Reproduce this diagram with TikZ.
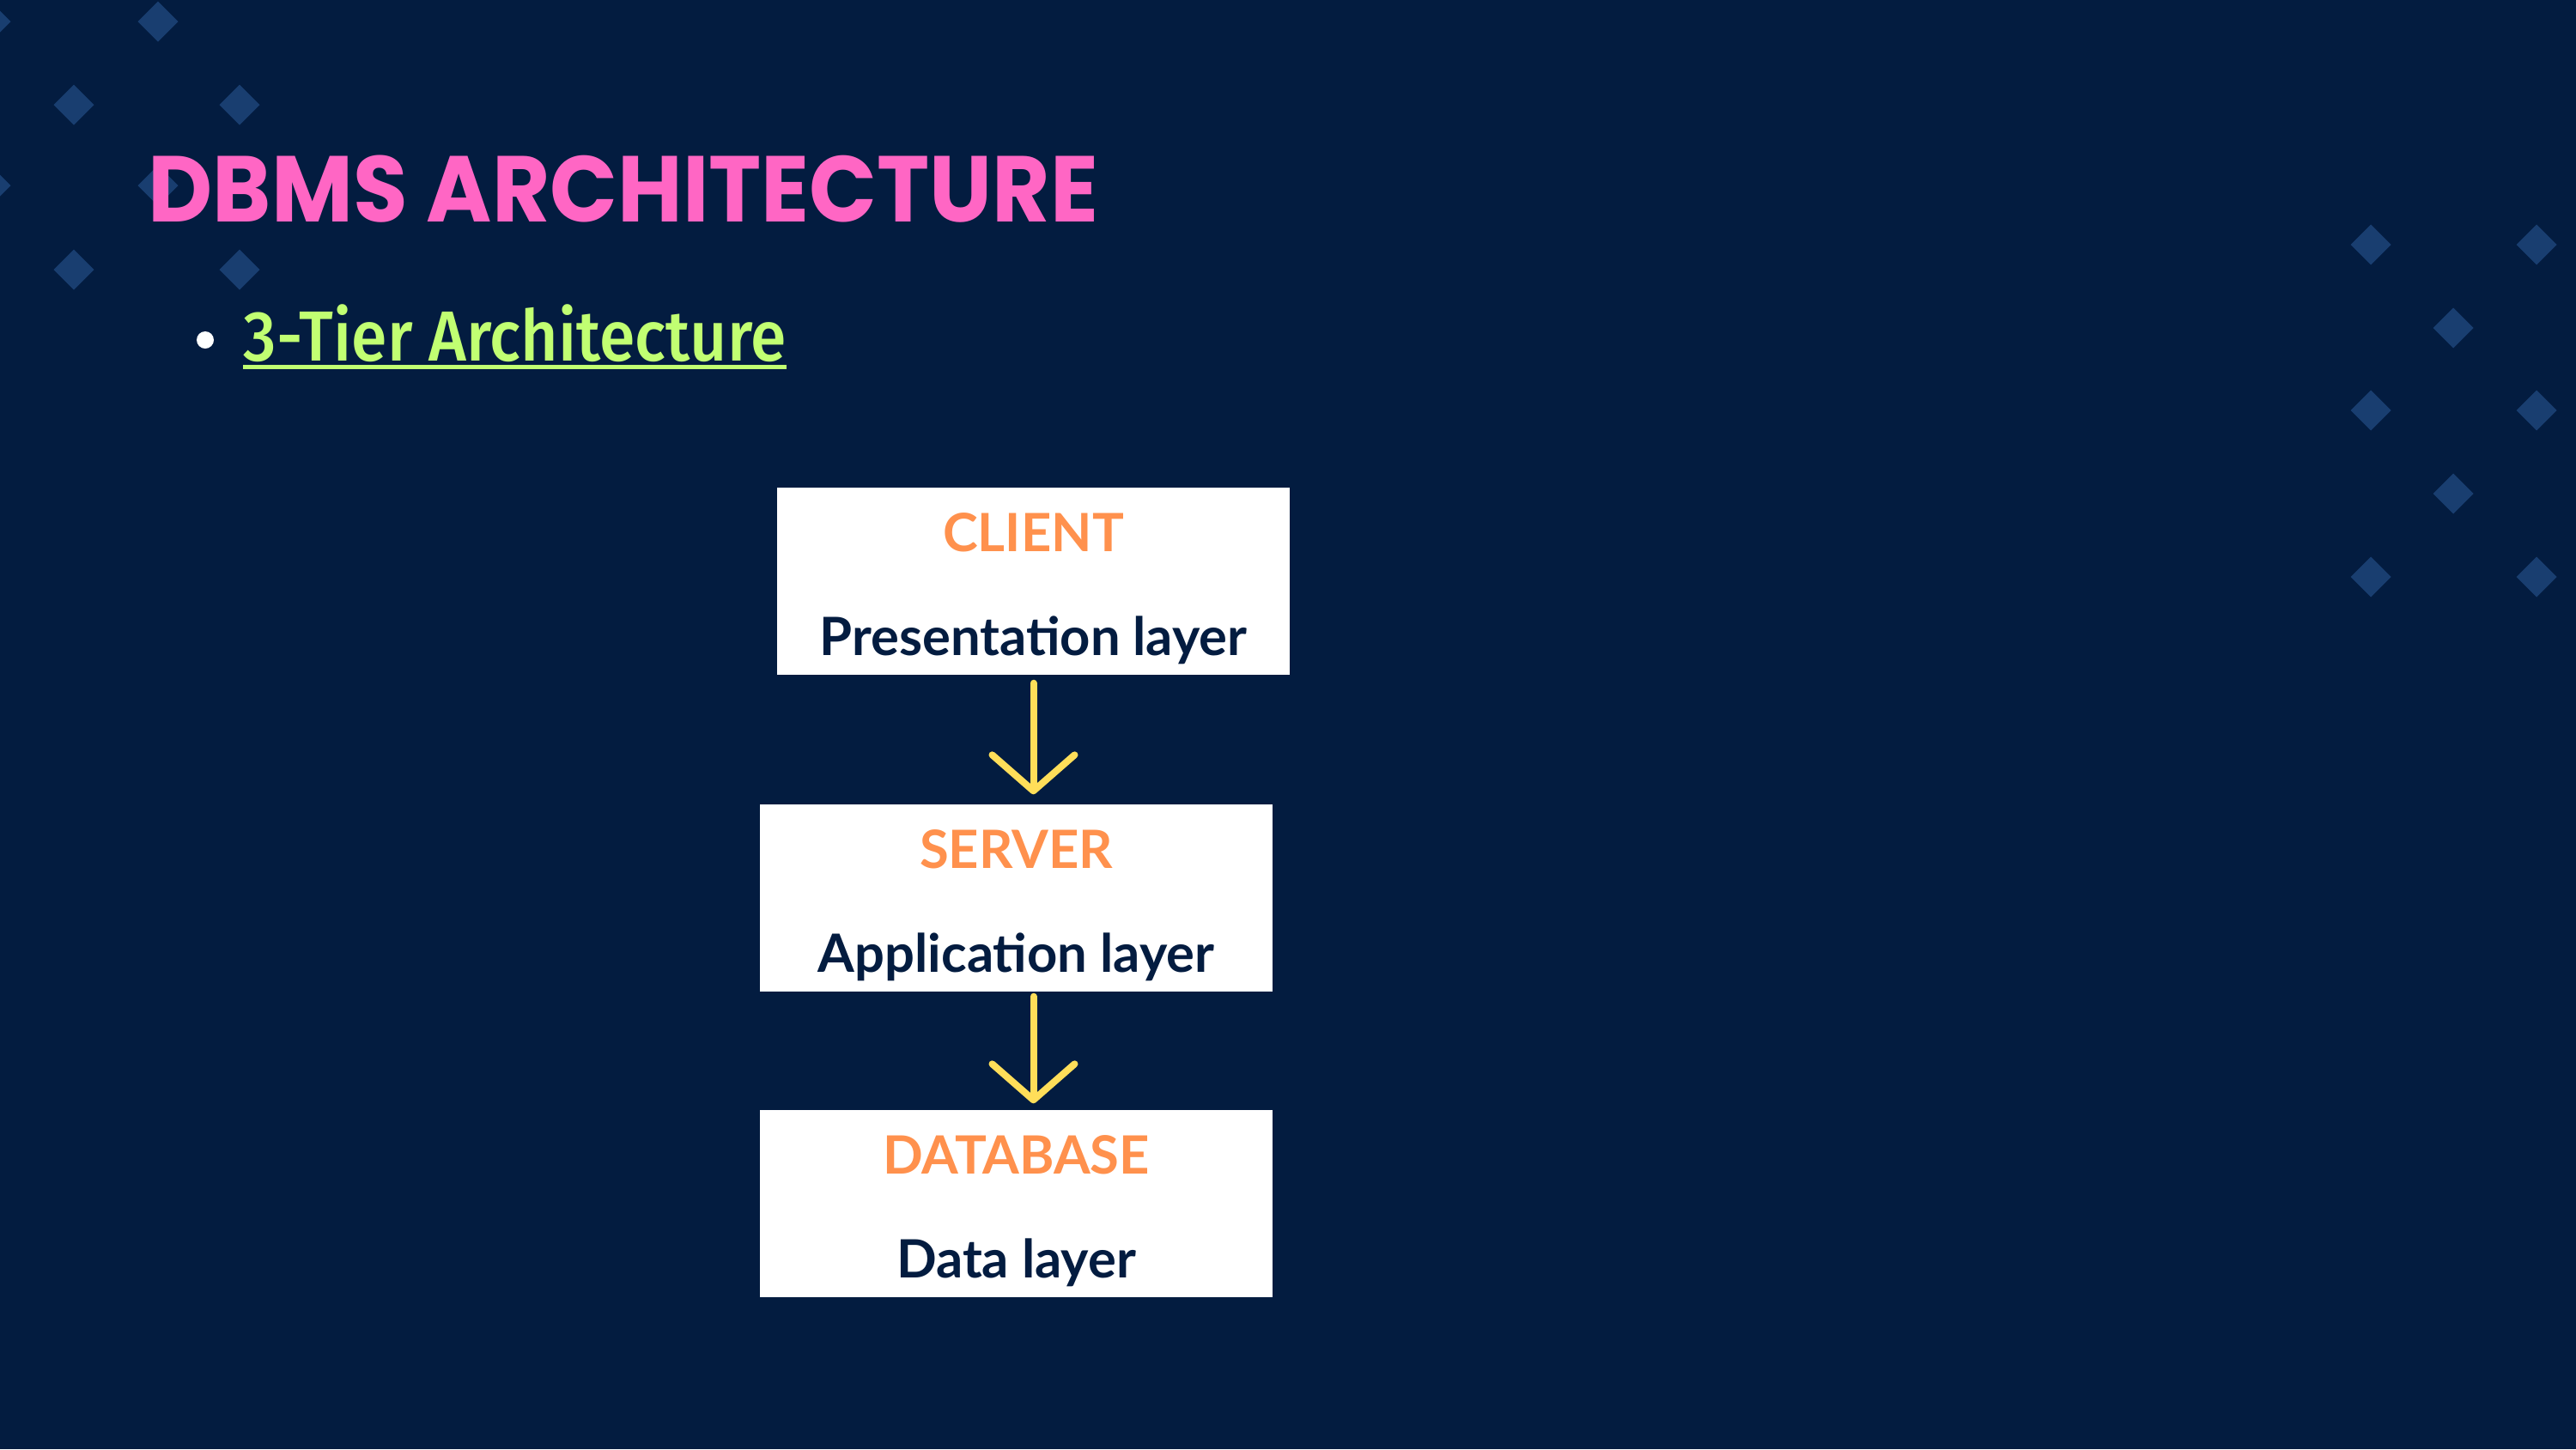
\documentclass[tikz,border=0pt]{standalone}
\usepackage{fontspec}
\setmainfont{Lato}
\newfontfamily\titlefont{Poppins}
\newfontfamily\tierfont{Fira Sans}[UprightFont=* Medium]
\usetikzlibrary{arrows.meta, positioning}
\definecolor{bgnavy}{RGB}{3,28,64}
\definecolor{gemblue}{RGB}{25,62,112}
\definecolor{titlepink}{RGB}{255,102,196}
\definecolor{tierlime}{RGB}{193,255,114}
\definecolor{tierorange}{RGB}{255,145,77}
\definecolor{arrowyellow}{RGB}{255,222,89}
\newcommand{\tiertop}{\rule{0pt}{0.62cm}}

\begin{document}
\begin{tikzpicture}[
  tierbox/.style={fill=white, minimum width=5.97cm, minimum height=2.18cm, align=center, inner sep=0pt, font=\bfseries\fontsize{17.5}{34.5}\selectfont},
  flow/.style={arrowyellow, line width=0.08cm, line cap=round, -{Straight Barb[length=4.2mm, width=9.6mm, line cap=round, line join=round]}}
]
  \useasboundingbox (0,0) rectangle (30,-16.88);
  \fill[bgnavy] (0,0) rectangle (30,-16.88);
  \clip (0,0) rectangle (30,-16.88);
  % background diamonds
  \foreach \x/\y in {-0.11/0.25, 1.84/0.25, 0.86/1.22, 2.79/1.22, -0.11/2.16, 1.84/2.16, 0.86/3.14, 2.79/3.14,
                     27.61/2.85, 29.54/2.85, 28.57/3.82, 27.61/4.78, 29.54/4.78, 28.57/5.75, 27.61/6.72, 29.54/6.72}
    \fill[gemblue] (\x,-\y) ++(0,0.235) -- ++(0.235,-0.235) -- ++(-0.235,-0.235) -- ++(-0.235,0.235) -- cycle;

  \node[anchor=base west, inner sep=0pt, text=titlepink, font=\titlefont\bfseries\fontsize{31}{31}\selectfont] (title) at (1.72,-2.58) {\scalebox{0.95}[1]{DBMS ARCHITECTURE}};

  % bullet
  \fill[white] (2.39,-3.96) circle (0.1);
  \node[anchor=base west, inner sep=0pt, text=tierlime, font=\tierfont\fontsize{23.5}{23.5}\selectfont] (tier) at (2.83,-4.2) {\scalebox{0.91}[1]{3-Tier Architecture}};
  \draw[tierlime, line width=0.05cm] ([yshift=-0.07cm]tier.base west) -- ([yshift=-0.07cm]tier.base east);

  % tiers
  \node[tierbox] (client) at (12.035,-6.77) {\tiertop{\color{tierorange}CLIENT}\\{\color{bgnavy}Presentation layer}};
  \node[tierbox] (server) at (11.835,-10.46) {\tiertop{\color{tierorange}SERVER}\\{\color{bgnavy}Application layer}};
  \node[tierbox] (database) at (11.835,-14.02) {\tiertop{\color{tierorange}DATABASE}\\{\color{bgnavy}Data layer}};

  \draw[flow] ([yshift=-0.09cm]client.south) -- ([yshift=0.11cm]client.south |- server.north);
  \draw[flow] ([yshift=-0.05cm]client.south |- server.south) -- ([yshift=0.07cm]client.south |- database.north);
\end{tikzpicture}
\end{document}
